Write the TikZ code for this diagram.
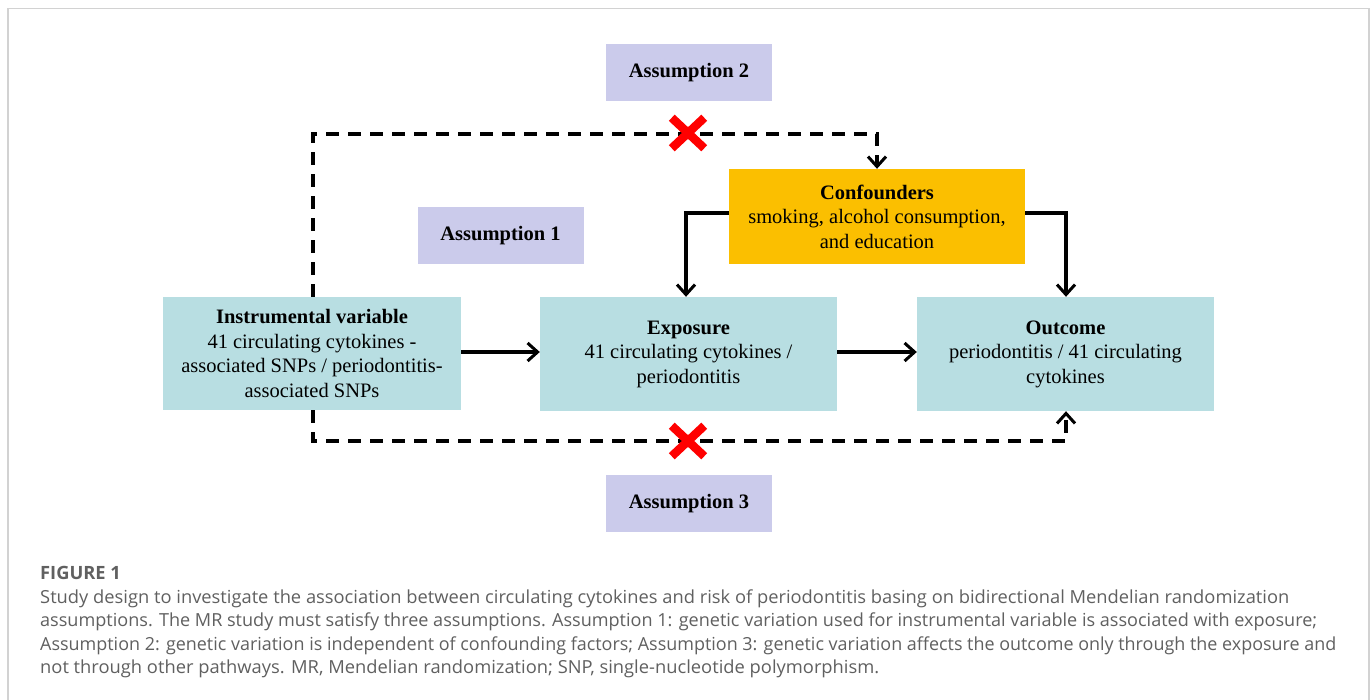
\documentclass[tikz,border=0pt]{standalone}
\usepackage{fontspec}
\usepackage{graphicx}
\setmainfont{Liberation Serif}
\newfontfamily\capfont{Open Sans}
\usetikzlibrary{arrows.meta,shapes.misc}
\definecolor{lav}{HTML}{CBCBEB}
\definecolor{teal1}{HTML}{B8DEE2}
\definecolor{gold1}{HTML}{FBBF00}
\definecolor{capgray}{HTML}{606060}
\definecolor{framegray}{HTML}{D2D2D2}
\tikzset{
  assum/.style={fill=lav, minimum width=166pt, minimum height=57pt, inner sep=0pt,
    font=\fontsize{20.5}{24.5}\selectfont\bfseries},
  mainbox/.style={fill=teal1, minimum width=297pt, minimum height=114pt, inner sep=0pt,
    align=center, font=\fontsize{20.5}{24.5}\selectfont},
  confbox/.style={fill=gold1, minimum width=296pt, minimum height=95pt, inner sep=0pt,
    align=center, font=\fontsize{20.5}{24.5}\selectfont},
  solidarrow/.style={line width=3.2pt, -{Straight Barb[length=10pt,width=18pt,line width=3pt]}},
  dasharrow/.style={line width=3.4pt, dash pattern=on 13pt off 9pt, -{Straight Barb[length=10pt,width=18pt,line width=3pt]}},
  redx/.style={draw=red, cross out, line width=8.5pt, minimum width=24pt, minimum height=22pt, inner sep=0pt},
  capline/.style={anchor=base west, inner sep=0pt, text=capgray, font=\capfont\fontsize{18}{23.5}\selectfont}
}
\begin{document}
\begin{tikzpicture}[x=1pt,y=-1pt]
\useasboundingbox (0,0) rectangle (1372,700);
\fill[white] (0,0) rectangle (1372,700);
\draw[framegray, line width=1.6pt] (8,702) -- (8,8.5) -- (1369,8.5) -- (1369,702);

\node[assum] (a2) at (689,73) {Assumption 2};
\node[assum] (a1) at (500.5,236) {Assumption 1};
\node[assum] (a3) at (689,503.5) {Assumption 3};

\node[confbox] (conf) at (877,216.5) {\textbf{Confounders}\\smoking, alcohol consumption,\\and education};
\node[mainbox, minimum width=298pt, minimum height=113pt] (iv) at (312,353.5) {\textbf{Instrumental variable}\\41 circulating cytokines -\\associated SNPs / periodontitis-\\associated SNPs};
\node[mainbox] (exp) at (688.5,354) {\textbf{Exposure}\\41 circulating cytokines /\\periodontitis};
\node[mainbox] (out) at (1065.5,354) {\textbf{Outcome}\\periodontitis / 41 circulating\\cytokines};

\coordinate (tl) at (313,134);
\coordinate (tr) at (877,134);
\coordinate (bl) at (313,441);
\coordinate (br) at (1066,441);

\draw[dasharrow] (iv.north -| tl) -- (tl) -- (tr) -- (conf.north);
\draw[dasharrow] (iv.south -| bl) -- (bl) -- (br) -- (out.south -| br);

\node[redx] (x1) at (688,133) {};
\node[redx] (x2) at (688,441) {};

\draw[solidarrow] (iv.east |- 0,352) -- (exp.west |- 0,352);
\draw[solidarrow] (exp.east |- 0,352) -- (out.west |- 0,352);
\coordinate (cl) at (686,213);
\coordinate (cr) at (1066,213);
\draw[solidarrow] (conf.west |- cl) -- (cl) -- (exp.north -| cl);
\draw[solidarrow] (conf.east |- cr) -- (cr) -- (out.north -| cr);

\node[capline, font=\capfont\fontsize{18.3}{23.5}\selectfont\bfseries, text=capgray] (fig) at (40,579) {FIGURE 1};
\node[capline] (c1) at (40,603) {\resizebox{1249pt}{\height}{Study design to investigate the association between circulating cytokines and risk of periodontitis basing on bidirectional Mendelian randomization}};
\node[capline] (c2) at (40,626.5) {\resizebox{1277pt}{\height}{assumptions. The MR study must satisfy three assumptions. Assumption 1: genetic variation used for instrumental variable is associated with exposure;}};
\node[capline] (c3) at (40,650) {\resizebox{1296pt}{\height}{Assumption 2: genetic variation is independent of confounding factors; Assumption 3: genetic variation affects the outcome only through the exposure and}};
\node[capline] (c4) at (40,673.5) {\resizebox{839pt}{\height}{not through other pathways. MR, Mendelian randomization; SNP, single-nucleotide polymorphism.}};
\end{tikzpicture}
\end{document}
